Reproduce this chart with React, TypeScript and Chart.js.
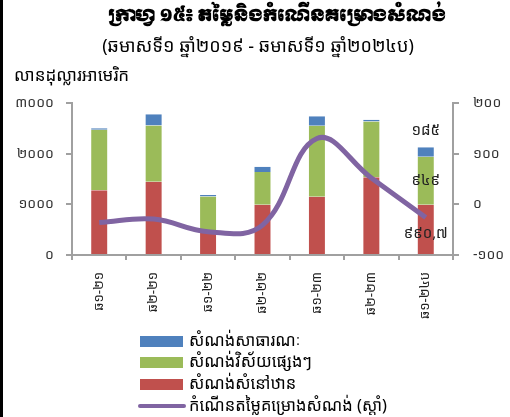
import React, { useEffect, useRef } from "react";
import { Chart, registerables } from "chart.js";

Chart.register(...registerables);

const categories = ["ឆ១-២១", "ឆ២-២១", "ឆ១-២២", "ឆ២-២២", "ឆ១-២៣", "ឆ២-២៣", "ឆ១-២៤ប"];
const housing = [1280, 1445, 440, 990, 1150, 1535, 990.7];
const otherSectors = [1190, 1110, 715, 650, 1400, 1100, 949];
const publicBuildings = [30, 225, 30, 100, 190, 35, 185];
const growth = [-36, -29, -54, -41, 130, 52, -26];
const leftTicks = [0, 1000, 2000, 3000];
const rightTicks = [-100, 0, 100, 200];

const titleText = "ក្រាហ្វ ១៥៖ តម្លៃនិងកំណើនគម្រោងសំណង់";
const subtitleText = "(ឆមាសទី១ ឆ្នាំ២០១៩ - ឆមាសទី១ ឆ្នាំ២០២៤ប)";
const yTitle = "លានដុល្លារអាមេរិក";
const seriesNames = ["សំណង់សំនៅឋាន", "សំណង់វិស័យផ្សេងៗ", "សំណង់សាធារណៈ", "កំណើនតម្លៃគម្រោងសំណង់ (ស្តាំ)"];
const lastLabels = ["៩៩០,៧", "៩៤៩", "១៨៥"];

const KH = "'Noto Sans Khmer', 'Khmer OS', 'Khmer OS System', 'Noto Serif Khmer', 'Hanuman', sans-serif";
const KH_TITLE = "'Moul', 'Khmer OS Muol Light', 'Noto Serif Khmer', 'Noto Sans Khmer', serif";

const RED = "#C0504D";
const GREEN = "#9BBB59";
const BLUE = "#4F81BD";
const PURPLE = "#8064A2";

const toKhmer = (v: number | string) =>
  String(v).replace(/[0-9]/g, (d) => "០១២៣៤៥៦៧៨៩"[Number(d)]);

const decorPlugin = {
  id: "decor",
  afterDraw(chart: any) {
    const ctx = chart.ctx as CanvasRenderingContext2D;
    ctx.save();
    ctx.fillStyle = "#000";
    ctx.fillRect(0, 0, 3, chart.height);
    ctx.textAlign = "center";
    ctx.textBaseline = "middle";
    ctx.fillStyle = "#000";
    ctx.font = `bold 16.5px ${KH_TITLE}`;
    ctx.fillText(titleText, 277, 18);
    ctx.font = `18px ${KH}`;
    ctx.fillText(subtitleText, 258, 47);
    ctx.textAlign = "left";
    ctx.font = `17px ${KH}`;
    ctx.fillText(yTitle, 14, 76);

    const idx = categories.length - 1;
    ctx.font = `15px ${KH}`;
    ctx.textAlign = "center";
    ctx.fillStyle = "#222";
    for (let d = 0; d < 3; d++) {
      const el = chart.getDatasetMeta(d).data[idx] as any;
      if (!el) continue;
      const x = el.x;
      let y = (el.y + el.base) / 2;
      if (d === 2) y = el.y - 17;
      ctx.fillText(lastLabels[d], x, y + (d === 0 ? 4 : 0));
    }

    const order = [2, 1, 0, 3];
    const rows = [341, 362, 384, 406];
    ctx.font = `16.5px ${KH}`;
    ctx.textAlign = "left";
    order.forEach((dsIndex, i) => {
      const ds = chart.data.datasets[dsIndex];
      const y = rows[i];
      if (dsIndex === 3) {
        ctx.strokeStyle = ds.borderColor;
        ctx.lineWidth = 4;
        ctx.lineCap = "round";
        ctx.beginPath();
        ctx.moveTo(140, y);
        ctx.lineTo(184, y);
        ctx.stroke();
      } else {
        ctx.fillStyle = ds.backgroundColor;
        ctx.fillRect(140, y - 5, 43, 11);
      }
      ctx.fillStyle = "#000";
      ctx.fillText(seriesNames[dsIndex], 189, y);
    });
    ctx.restore();
  },
};

export default function App() {
  const ref = useRef<HTMLCanvasElement>(null);
  useEffect(() => {
    document.body.style.margin = "0";
    const chart = new Chart(ref.current!, {
      type: "bar",
      data: {
        labels: categories,
        datasets: [
          { type: "bar", label: seriesNames[0], data: housing, backgroundColor: RED, borderColor: "#fff", borderWidth: { left: 1, right: 1 } as any, stack: "s", yAxisID: "y", order: 1, barPercentage: 0.33, categoryPercentage: 1 },
          { type: "bar", label: seriesNames[1], data: otherSectors, backgroundColor: GREEN, borderColor: "#fff", borderWidth: { left: 1, right: 1 } as any, stack: "s", yAxisID: "y", order: 1, barPercentage: 0.33, categoryPercentage: 1 },
          { type: "bar", label: seriesNames[2], data: publicBuildings, backgroundColor: BLUE, borderColor: "#fff", borderWidth: { left: 1, right: 1 } as any, stack: "s", yAxisID: "y", order: 1, barPercentage: 0.33, categoryPercentage: 1 },
          { type: "line", label: seriesNames[3], data: growth, borderColor: PURPLE, backgroundColor: PURPLE, borderWidth: 5, pointRadius: 0, tension: 0.4, yAxisID: "y1", order: 0 } as any,
        ],
      },
      options: {
        responsive: false,
        animation: false,
        layout: { padding: { top: 103, left: 0, right: 0, bottom: 86 } },
        plugins: { legend: { display: false }, title: { display: false }, tooltip: { enabled: false } },
        scales: {
          x: {
            stacked: true,
            grid: { display: true, drawOnChartArea: false, offset: true, color: "#A0A0A0", tickLength: 5, lineWidth: 2 },
            border: { color: "#A0A0A0", width: 2 },
            ticks: { minRotation: 90, maxRotation: 90, color: "#222", font: { size: 13, family: KH }, padding: 12 },
          },
          y: {
            stacked: true,
            position: "left",
            min: 0,
            max: 3000,
            afterBuildTicks: (axis: any) => { axis.ticks = leftTicks.map((v) => ({ value: v })); },
            grid: { display: true, drawOnChartArea: false, color: "#A0A0A0", tickLength: 6, lineWidth: 2 },
            border: { color: "#A0A0A0", width: 2 },
            ticks: { color: "#333", font: { size: 14, family: KH }, padding: 12, callback: (v: any) => toKhmer(v) },
            afterFit: (axis: any) => { axis.width = 72; },
          },
          y1: {
            position: "right",
            min: -100,
            max: 200,
            afterBuildTicks: (axis: any) => { axis.ticks = rightTicks.map((v) => ({ value: v })); },
            grid: { display: true, drawOnChartArea: false, color: "#A0A0A0", tickLength: 6, lineWidth: 2 },
            border: { color: "#A0A0A0", width: 2 },
            ticks: { color: "#333", font: { size: 14, family: KH }, padding: 14, callback: (v: any) => toKhmer(v) },
            afterFit: (axis: any) => { axis.width = 57; },
          },
        },
      },
      plugins: [decorPlugin],
    });
    return () => chart.destroy();
  }, []);
  return <canvas ref={ref} width={510} height={417} style={{ display: "block" }} />;
}
